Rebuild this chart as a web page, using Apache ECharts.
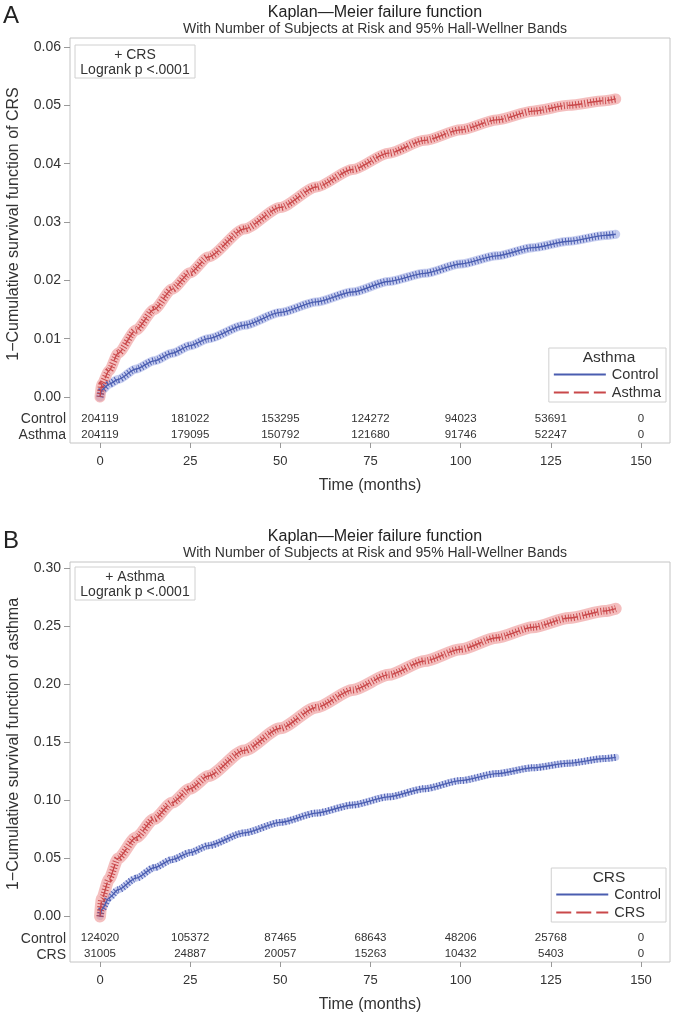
<!DOCTYPE html>
<html><head><meta charset="utf-8">
<script src="https://cdn.jsdelivr.net/npm/echarts@6/dist/echarts.min.js"></script>
<style>html,body{margin:0;padding:0;background:#fff}#c{width:673px;height:1015px}</style>
</head><body><div id="c"></div>
<script>
// ---- data ----
const months = [0, 0.5, 2.5, 5, 10, 15, 20, 25, 30, 40, 50, 60, 70, 80, 90, 100, 110, 120, 130, 140, 143];
const aControl = [0, 0.0012, 0.0022, 0.003, 0.0048, 0.0062, 0.0075, 0.0088, 0.01, 0.0123, 0.0145, 0.0163, 0.018, 0.0198, 0.0212, 0.0228, 0.0242, 0.0256, 0.0267, 0.0277, 0.0279];
const aAsthma = [0, 0.0022, 0.0045, 0.0075, 0.0115, 0.015, 0.0185, 0.0213, 0.024, 0.0288, 0.0325, 0.036, 0.039, 0.0418, 0.044, 0.0458, 0.0475, 0.049, 0.05, 0.0508, 0.0511];
const bControl = [0, 0.006, 0.016, 0.023, 0.033, 0.042, 0.049, 0.055, 0.061, 0.072, 0.081, 0.089, 0.096, 0.103, 0.11, 0.117, 0.123, 0.128, 0.132, 0.136, 0.137];
const bCRS = [0, 0.015, 0.032, 0.05, 0.068, 0.084, 0.098, 0.11, 0.121, 0.143, 0.162, 0.18, 0.195, 0.208, 0.22, 0.23, 0.24, 0.249, 0.257, 0.263, 0.265];
const xTicks = [0, 25, 50, 75, 100, 125, 150];
const yTicksA = [0, 0.01, 0.02, 0.03, 0.04, 0.05, 0.06];
const yTicksB = [0, 0.05, 0.10, 0.15, 0.20, 0.25, 0.30];
const riskAControl = [204119, 181022, 153295, 124272, 94023, 53691, 0];
const riskAAsthma = [204119, 179095, 150792, 121680, 91746, 52247, 0];
const riskBControl = [124020, 105372, 87465, 68643, 48206, 25768, 0];
const riskBCRS = [31005, 24887, 20057, 15263, 10432, 5403, 0];

const FONT = 'Liberation Sans, Arial, sans-serif';
const BLUE = '#4a5db0', RED = '#c9484a';
const BLUE_HATCH = 'rgba(60,80,170,0.85)', RED_HATCH = 'rgba(195,55,58,0.85)';
const BLUE_BAND = 'rgba(160,172,228,0.6)', RED_BAND = 'rgba(238,150,150,0.62)';
const pair = ys => months.map((t, i) => [t, ys[i]]);

const chart = echarts.init(document.getElementById('c'), null, {renderer: 'canvas'});

function mainX(gi) {
  return {gridIndex: gi, type: 'value', min: -8.318, max: 158.04, position: 'bottom',
    axisLine: {show: false, onZero: false}, splitLine: {show: false},
    axisTick: {show: true, length: 5, customValues: xTicks, lineStyle: {color: '#999'}},
    axisLabel: {margin: 12, fontSize: 13, color: '#333', fontFamily: FONT, customValues: xTicks},
    name: 'Time (months)', nameLocation: 'middle', nameGap: 35,
    nameTextStyle: {fontSize: 16, color: '#333', fontFamily: FONT}};
}
function riskAxis(gi, arr, offset) {
  return {gridIndex: gi, type: 'value', min: -8.318, max: 158.04, position: 'bottom', offset: offset,
    axisLine: {show: false, onZero: false}, axisTick: {show: false}, splitLine: {show: false},
    axisLabel: {margin: 0, fontSize: 11.5, color: '#333', fontFamily: FONT, verticalAlign: 'middle',
      customValues: xTicks,
      formatter: v => { const i = xTicks.indexOf(v); return i >= 0 ? String(arr[i]) : ''; }}};
}
function mainY(gi, min, max, ticks) {
  return {gridIndex: gi, type: 'value', min: min, max: max,
    axisLine: {show: false, onZero: false}, splitLine: {show: false},
    axisTick: {show: true, length: 6, customValues: ticks, lineStyle: {color: '#999'}},
    axisLabel: {margin: 9, fontSize: 14, color: '#333', fontFamily: FONT, customValues: ticks, formatter: v => v.toFixed(2)}};
}

function curveSeries(xi, yi, name, data, color, hatch, band, bandW, dashed) {
  return [
    {type: 'line', xAxisIndex: xi, yAxisIndex: yi, data: data, symbol: 'none', smooth: 0.25, smoothMonotone: 'x',
      silent: true, z: 1, lineStyle: {width: bandW, color: band, cap: 'round', join: 'round'}},
    {type: 'line', xAxisIndex: xi, yAxisIndex: yi, data: data, symbol: 'none', smooth: 0.25, smoothMonotone: 'x',
      silent: true, z: 2, lineStyle: {width: 7, color: hatch, type: [1, 2]}},
    {type: 'line', name: name, xAxisIndex: xi, yAxisIndex: yi, data: data, symbol: 'none', smooth: 0.25, smoothMonotone: 'x',
      z: 3, lineStyle: {width: 1.4, color: color, type: dashed ? [15, 5] : 'solid'}, itemStyle: {color: color}}
  ];
}

const series = [].concat(
  curveSeries(0, 0, 'Control', pair(aControl), BLUE, BLUE_HATCH, BLUE_BAND, 9, false),
  curveSeries(0, 0, 'Asthma', pair(aAsthma), RED, RED_HATCH, RED_BAND, 11, true),
  curveSeries(3, 1, 'Control', pair(bControl), BLUE, BLUE_HATCH, BLUE_BAND, 7, false),
  curveSeries(3, 1, 'CRS', pair(bCRS), RED, RED_HATCH, RED_BAND, 12, true)
);

function textG(x, y, text, opts, rot) {
  return Object.assign({type: 'text', x: x, y: y, rotation: rot || 0, silent: true, z: 100,
    style: Object.assign({text: text, fontFamily: FONT, fontSize: 14, fill: '#333', align: 'left', verticalAlign: 'middle'}, opts || {})});
}
function rectG(x, y, w, h, stroke) {
  return {type: 'rect', shape: {x: x, y: y, width: w, height: h}, silent: true, z: 100,
    style: {fill: 'none', stroke: stroke || '#c4c4c4', lineWidth: 1}};
}

const legendBase = {orient: 'vertical', right: 7, itemWidth: 52, itemHeight: 14, itemGap: 3,
  padding: [19, 5, 2, 4], borderColor: '#d0d0d0', borderWidth: 1, backgroundColor: '#fff',
  itemStyle: {opacity: 0},
  textStyle: {fontSize: 14.5, color: '#333', fontFamily: FONT, padding: [0, 0, 0, 1]}, selectedMode: false};

const titleBase = {left: 370, textAlign: 'center', itemGap: 1,
  textStyle: {fontSize: 16, fontWeight: 'normal', color: '#222', fontFamily: FONT},
  subtextStyle: {fontSize: 14, color: '#333', fontFamily: FONT}};

const option = {
  animation: false,
  backgroundColor: '#fff',
  title: [
    Object.assign({}, titleBase, {text: 'Kaplan\u2014Meier failure function',
      subtext: 'With Number of Subjects at Risk and 95% Hall-Wellner Bands', top: 0}),
    Object.assign({}, titleBase, {text: 'Kaplan\u2014Meier failure function',
      subtext: 'With Number of Subjects at Risk and 95% Hall-Wellner Bands', top: 524})
  ],
  grid: [
    {left: 70, right: 3, top: 38, bottom: 572, show: true, borderColor: '#c4c4c4', borderWidth: 1},
    {left: 70, right: 3, top: 562, bottom: 53, show: true, borderColor: '#c4c4c4', borderWidth: 1}
  ],
  xAxis: [mainX(0), riskAxis(0, riskAControl, -24), riskAxis(0, riskAAsthma, -8),
          mainX(1), riskAxis(1, riskBControl, -24), riskAxis(1, riskBCRS, -8)],
  yAxis: [mainY(0, -0.007886, 0.061543, yTicksA),
          mainY(1, -0.03917, 0.30516, yTicksB)],
  legend: [
    Object.assign({}, legendBase, {top: 348, data: ['Control', 'Asthma']}),
    Object.assign({}, legendBase, {top: 868, data: ['Control', 'CRS']})
  ],
  series: series,
  graphic: [
    textG(3, 16, 'A', {fontSize: 24, fill: '#222'}),
    textG(3, 541, 'B', {fontSize: 24, fill: '#222'}),
    textG(14, 224, '1\u2212Cumulative survival function of CRS', {align: 'center', fontSize: 16}, Math.PI / 2),
    textG(14, 744, '1\u2212Cumulative survival function of asthma', {align: 'center', fontSize: 16}, Math.PI / 2),
    rectG(75, 45, 120, 33, '#d0d0d0'),
    textG(135, 55, '+ CRS', {align: 'center'}),
    textG(135, 70, 'Logrank p <.0001', {align: 'center'}),
    rectG(75, 567, 120, 33, '#d0d0d0'),
    textG(135, 577, '+ Asthma', {align: 'center'}),
    textG(135, 592, 'Logrank p <.0001', {align: 'center'}),
    textG(66, 419, 'Control', {align: 'right'}),
    textG(66, 435, 'Asthma', {align: 'right'}),
    textG(66, 939, 'Control', {align: 'right'}),
    textG(66, 955, 'CRS', {align: 'right'}),
    textG(609, 358, 'Asthma', {align: 'center', fontSize: 15.5}),
    textG(609, 878, 'CRS', {align: 'center', fontSize: 15.5})
  ]
};
chart.setOption(option);
</script>
</body></html>
